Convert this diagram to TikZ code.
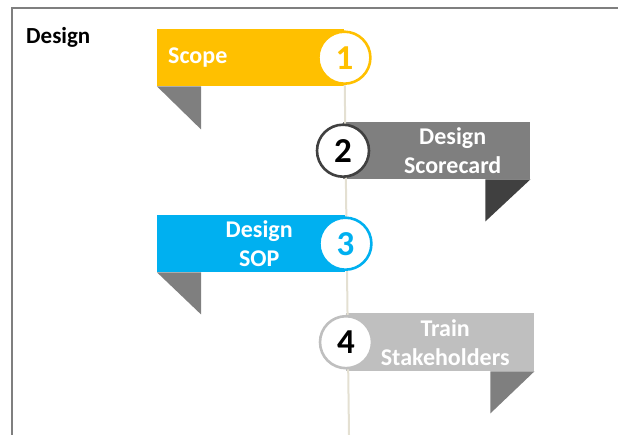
\documentclass[tikz,border=0pt]{standalone}
\usepackage{fontspec}
\setmainfont{Carlito}
\usetikzlibrary{positioning}

\definecolor{scopeyellow}{HTML}{FFC000}
\definecolor{sopblue}{HTML}{00B0F0}
\definecolor{midgray}{HTML}{7F7F7F}
\definecolor{darkgray}{HTML}{404040}
\definecolor{lightgray}{HTML}{BFBFBF}
\definecolor{stemline}{HTML}{E4E0D2}

\begin{document}
\begin{tikzpicture}[
    x=1pt, y=-1pt,
    ribbon/.style={rectangle, draw=none, minimum width=187pt, minimum height=57pt,
        inner sep=0pt},
    stepcircle/.style={circle, fill=white, line width=2.6pt, minimum size=52pt,
        inner sep=0pt, font=\bfseries\fontsize{35}{35}\selectfont},
    lbl/.style={text=white, align=center, inner sep=0pt,
        font=\bfseries\fontsize{24}{29}\selectfont}
]
\useasboundingbox (0,0) rectangle (618,435);

% frame
\draw[midgray, line width=2.2pt] (12,435) -- (12,8) -- (618,8);
\node (title) [anchor=base west, inner sep=0pt,
    font=\bfseries\fontsize{23}{23}\selectfont] at (26,44) {Design};

% time line
\coordinate (stemend) at (349,435);

% step 1
\node (rib1) [ribbon, fill=scopeyellow, anchor=north west] at (157,29) {};
\fill[midgray] (rib1.south west) -- ++(44,0) -- ++(0,43) -- cycle;
\node (txt1) [lbl, anchor=west, right=11pt of rib1.west] {Scope};

% step 2
\node (rib2) [ribbon, fill=midgray, anchor=north west] at (343,122) {};
\fill[darkgray] (rib2.south east) -- ++(-45,0) -- ++(0,42) -- cycle;
\node (txt2) [lbl] at ([xshift=16pt]rib2.center) {Design\\Scorecard};

% step 3
\node (rib3) [ribbon, fill=sopblue, minimum width=188pt, anchor=north west] at (157,215) {};
\fill[midgray] (rib3.south west) -- ++(44,0) -- ++(0,42) -- cycle;
\node (txt3) [lbl] at ([xshift=8pt]rib3.center) {Design\\SOP};

% step 4
\node (rib4) [ribbon, fill=lightgray, minimum width=188pt, minimum height=58pt,
    anchor=north west] at (346,313) {};
\fill[midgray] (rib4.south east) -- ++(-44,0) -- ++(0,42) -- cycle;
\node (txt4) [lbl] at ([xshift=5pt]rib4.center) {Train\\Stakeholders};

% stem behind circles
\draw[stemline, line width=2pt] (rib1.east) -- (stemend);

% numbered circles
\node (num1) [stepcircle, draw=scopeyellow, text=scopeyellow] at (rib1.east) {1};
\node (num2) [stepcircle, draw=darkgray, text=black] at (rib2.west) {2};
\node (num3) [stepcircle, draw=sopblue, text=sopblue] at (rib3.east) {3};
\node (num4) [stepcircle, draw=lightgray, text=black] at (rib4.west) {4};
\end{tikzpicture}
\end{document}
